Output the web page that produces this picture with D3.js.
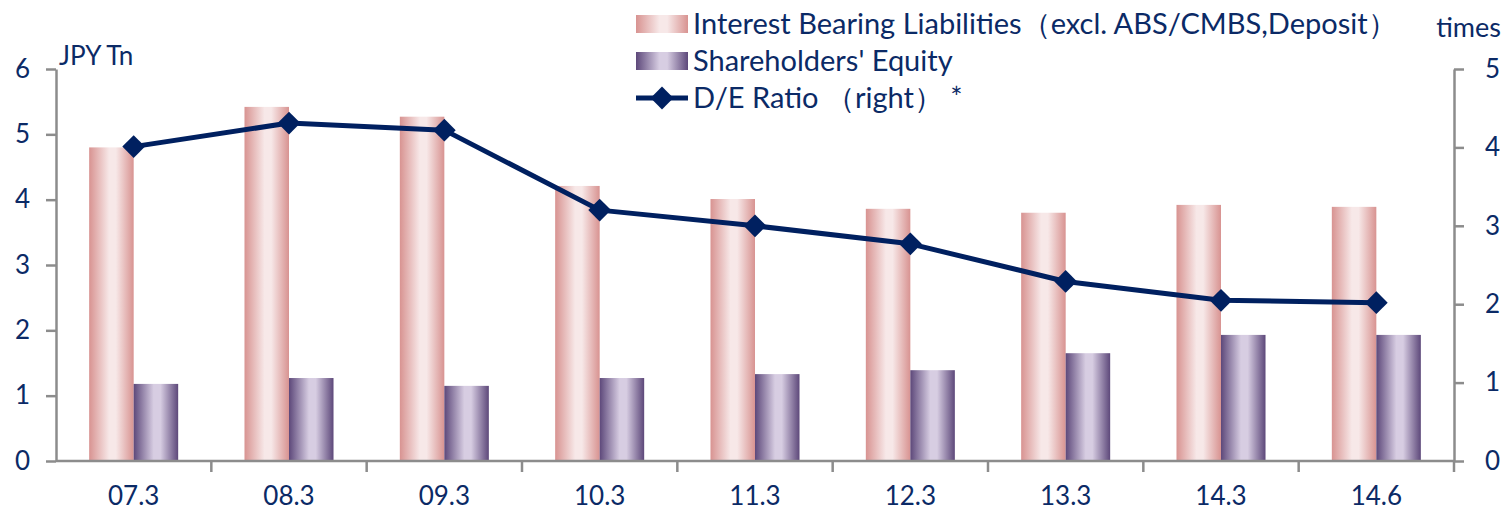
<!DOCTYPE html>
<html lang="en">
<head>
    <meta charset="UTF-8">
    <title>Interest Bearing Liabilities and D/E Ratio</title>
    <script src="https://d3js.org/d3.v7.min.js"></script>
    <style>
        body { margin: 0; background: #fff; }
        text { font-family: Lato, "Noto Sans", sans-serif; fill: #0b2a66; }
        .axis path, .axis line { stroke: #8c8c8c; stroke-width: 2.5; }
        .axis text { font-size: 26px; }
    </style>
</head>
<body>
    <script>
        const periods = ["07.3", "08.3", "09.3", "10.3", "11.3", "12.3", "13.3", "14.3", "14.6"]
        const liabilities = [4.80, 5.42, 5.27, 4.21, 4.01, 3.86, 3.80, 3.92, 3.89]
        const equity = [1.18, 1.27, 1.15, 1.27, 1.33, 1.39, 1.65, 1.93, 1.93]
        const deRatio = [4.01, 4.31, 4.22, 3.20, 3.00, 2.77, 2.29, 2.05, 2.02]
        const leftTicks = [0, 1, 2, 3, 4, 5, 6]
        const rightTicks = [0, 1, 2, 3, 4, 5]
        const seriesNames = ["Interest Bearing Liabilities\uFF08excl. ABS/CMBS,Deposit\uFF09", "Shareholders' Equity", "D/E Ratio \uFF08right\uFF09 *"]

        const W = 1510, H = 516
        const margin = {top: 69, right: 56, bottom: 55, left: 56}
        const width = W - margin.left - margin.right,
              height = H - margin.top - margin.bottom

        const svg = d3.select("body").append("svg")
            .attr("width", W)
            .attr("height", H)

        const defs = svg.append("defs")
        function barGradient(id, edge, mid) {
            const g = defs.append("linearGradient").attr("id", id)
                .attr("x1", "0%").attr("x2", "100%").attr("y1", "0%").attr("y2", "0%")
            g.append("stop").attr("offset", "0%").attr("stop-color", edge)
            g.append("stop").attr("offset", "45%").attr("stop-color", mid)
            g.append("stop").attr("offset", "60%").attr("stop-color", mid)
            g.append("stop").attr("offset", "100%").attr("stop-color", edge)
        }
        barGradient("gLiab", "#d89391", "#f7e8e8")
        barGradient("gEq", "#5d487a", "#d7cde2")

        const g = svg.append("g")
            .attr("transform", "translate(" + margin.left + "," + margin.top + ")")

        const x = d3.scaleBand()
            .domain(periods)
            .range([0, width])
            .padding(0)

        const xs = d3.scaleBand()
            .domain(["liab", "eq"])
            .range([0, x.bandwidth()])
            .paddingInner(0)
            .paddingOuter(0.745)

        const y = d3.scaleLinear().domain([0, 6]).range([height, 0])
        const y2 = d3.scaleLinear().domain([0, 5]).range([height, 0])

        // bars
        const cat = g.selectAll(".cat")
            .data(periods)
            .enter().append("g")
            .attr("transform", d => "translate(" + x(d) + ",0)")

        cat.append("rect")
            .attr("x", xs("liab"))
            .attr("width", xs.bandwidth())
            .attr("y", (d, i) => y(liabilities[i]))
            .attr("height", (d, i) => height - y(liabilities[i]))
            .attr("fill", "url(#gLiab)")

        cat.append("rect")
            .attr("x", xs("eq"))
            .attr("width", xs.bandwidth())
            .attr("y", (d, i) => y(equity[i]))
            .attr("height", (d, i) => height - y(equity[i]))
            .attr("fill", "url(#gEq)")

        // axes
        const xAxis = g.append("g")
            .attr("class", "axis")
            .attr("transform", "translate(0," + height + ")")
            .call(d3.axisBottom(x).tickSize(0).tickPadding(22))
        xAxis.select(".domain").attr("d", "M0,0H" + width)
        xAxis.selectAll("text").attr("dy", "0.85em")
        xAxis.selectAll(".sep")
            .data(periods.slice(1))
            .enter().append("line")
            .attr("class", "sep")
            .attr("x1", d => x(d)).attr("x2", d => x(d))
            .attr("y1", 0).attr("y2", 11)

        g.append("g")
            .attr("class", "axis")
            .call(d3.axisLeft(y).tickValues(leftTicks).tickFormat(d3.format("d"))
                .tickSize(10).tickPadding(16).tickSizeOuter(0))

        const yAxis2 = g.append("g")
            .attr("class", "axis")
            .attr("transform", "translate(" + width + ",0)")
            .call(d3.axisRight(y2).tickValues(rightTicks).tickFormat(d3.format("d"))
                .tickSize(10).tickPadding(21).tickSizeOuter(0))
        yAxis2.append("line")
            .attr("x1", 0).attr("x2", 0).attr("y1", height).attr("y2", height + 11)

        // D/E line
        const cx = d => x(d) + x.bandwidth() / 2
        g.append("path")
            .datum(periods)
            .attr("fill", "none")
            .attr("stroke", "#002060")
            .attr("stroke-width", 5)
            .attr("stroke-linejoin", "round")
            .attr("d", d3.line().x(d => cx(d)).y((d, i) => y2(deRatio[i])))

        const diamond = d3.symbol().type(d3.symbolDiamond2).size(330)
        g.selectAll(".mk")
            .data(periods)
            .enter().append("path")
            .attr("class", "mk")
            .attr("d", diamond)
            .attr("fill", "#002060")
            .attr("transform", (d, i) => "translate(" + cx(d) + "," + y2(deRatio[i]) + ")")

        // axis units
        svg.append("text").attr("x", 59).attr("y", 65).style("font-size", "26px").text("JPY Tn")
        svg.append("text").attr("x", 1501).attr("y", 37).attr("text-anchor", "end")
            .style("font-size", "27px").text("times")

        // legend
        const leg = svg.append("g").attr("transform", "translate(636,0)")
        const rows = [24, 61, 98]
        leg.append("rect").attr("x", 0).attr("y", rows[0] - 9).attr("width", 52).attr("height", 18).attr("fill", "url(#gLiab)")
        leg.append("rect").attr("x", 0).attr("y", rows[1] - 9).attr("width", 52).attr("height", 18).attr("fill", "url(#gEq)")
        leg.append("line").attr("x1", 0).attr("x2", 52).attr("y1", rows[2]).attr("y2", rows[2])
            .attr("stroke", "#002060").attr("stroke-width", 5)
        leg.append("path").attr("d", diamond).attr("fill", "#002060")
            .attr("transform", "translate(26," + rows[2] + ")")
        leg.selectAll(".lt")
            .data(seriesNames)
            .enter().append("text")
            .attr("class", "lt")
            .attr("x", 57)
            .attr("y", (d, i) => rows[i])
            .attr("dy", "0.36em")
            .style("font-size", "29px")
            .text(d => d)
    </script>
</body>
</html>
